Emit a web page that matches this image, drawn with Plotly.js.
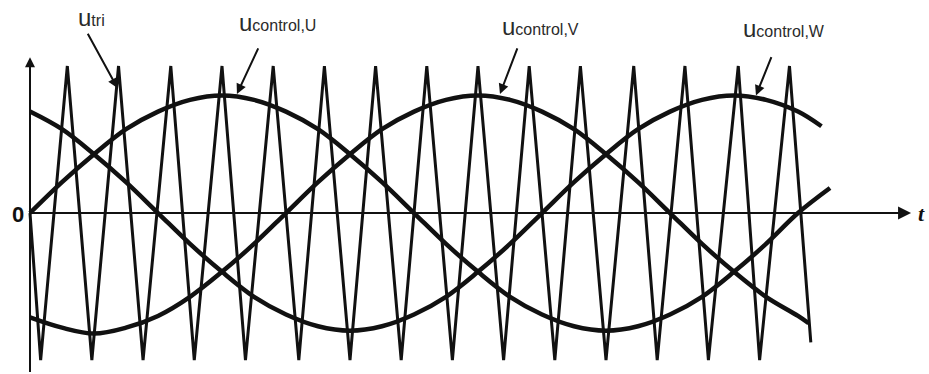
<!DOCTYPE html>
<html>
<head>
<meta charset="utf-8">
<script src="https://cdn.plot.ly/plotly-3.0.1.min.js"></script>
<style>html,body{margin:0;padding:0;background:#fff;}#chart{width:929px;height:374px;}</style>
</head>
<body>
<div id="chart"></div>
<script>
// time axis in electrical degrees of the fundamental
const sineT = [0,15,30,45,60,75,90,105,120,135,150,165,180,195,210,225,240,255,270,285,300,315,330,345,360];
const uU = [0,0.21,0.40,0.57,0.69,0.77,0.80,0.77,0.69,0.57,0.40,0.21,0,-0.21,-0.40,-0.57,-0.69,-0.77,-0.80,-0.77,-0.69,-0.57,-0.40,-0.21,0];
const uV = [-0.71,-0.78,-0.82,-0.78,-0.70,-0.57,-0.40,-0.21,0,0.21,0.40,0.57,0.69,0.77,0.80,0.77,0.69,0.57,0.40,0.21,0,-0.21,-0.40,-0.57,-0.70];
const uW = [0.69,0.57,0.40,0.21,0,-0.21,-0.40,-0.57,-0.69,-0.77,-0.80,-0.77,-0.69,-0.57,-0.40,-0.21,0,0.21,0.40,0.57,0.69,0.77,0.80,0.77,0.69];
const endT_U = 375, endU = 0.17;
const endT_V = 365, endV = -0.75;
const endT_W = 371, endW = 0.59;

// triangle carrier vertices
const triT = [0,5,17.5,29,41.5,53,66,77,90,101,114,126,138,150,162,174,186,198,210,222,234,246,258,270,283,294,307,318,332,342,356,366];
const triV = [0,-1,1,-1,1,-1,1,-1,1,-1,1,-1,1,-1,1,-1,1,-1,1,-1,1,-1,1,-1,1,-1,1,-1,1,-1,1,-0.88];

const labels = ['tri', 'control,U', 'control,V', 'control,W'];

const ink = '#111111';
const txt = '#2b2b2b';

const traces = [
  {x: triT, y: triV, mode: 'lines', line: {color: ink, width: 3}, hoverinfo: 'skip'},
  {x: sineT.concat([endT_U]), y: uU.concat([endU]), mode: 'lines', line: {color: ink, width: 4.5, shape: 'spline', smoothing: 1}, hoverinfo: 'skip'},
  {x: sineT.concat([endT_V]), y: uV.concat([endV]), mode: 'lines', line: {color: ink, width: 4.5, shape: 'spline', smoothing: 1}, hoverinfo: 'skip'},
  {x: sineT.concat([endT_W]), y: uW.concat([endW]), mode: 'lines', line: {color: ink, width: 4.5, shape: 'spline', smoothing: 1}, hoverinfo: 'skip'}
];

function lbl(sub, x, y) {
  return {x: x, y: y, xref: 'x', yref: 'y', showarrow: false, xanchor: 'left', yanchor: 'middle',
    text: 'u<span style="font-size:16px">' + sub + '</span>',
    font: {family: 'Liberation Sans, Arial, sans-serif', size: 24, color: txt}};
}
function arr(x, y, ax, ay, size) {
  return {x: x, y: y, ax: ax, ay: ay, xref: 'x', yref: 'y', axref: 'x', ayref: 'y', text: '',
    showarrow: true, arrowhead: 2, arrowsize: size || 1, arrowwidth: 2, arrowcolor: ink};
}

const annotations = [
  lbl(labels[0], 21.6, 1.33),
  lbl(labels[1], 97.2, 1.295),
  lbl(labels[2], 220.4, 1.27),
  lbl(labels[3], 333.2, 1.255),
  arr(41.0, 0.85, 26.7, 1.23),
  arr(97.0, 0.81, 107.3, 1.13),
  arr(220.3, 0.81, 228.7, 1.13),
  arr(340.3, 0.80, 347.8, 1.07),
  arr(0, 1.06, 0, 0.9, 1),
  arr(413, 0, 398, 0, 1.3),
  {x: -5.6, y: -0.01, xref: 'x', yref: 'y', showarrow: false, text: '<b>0</b>',
   font: {family: 'Liberation Sans, Arial, sans-serif', size: 22, color: ink}},
  {x: 418, y: 0, xref: 'x', yref: 'y', showarrow: false, text: '<b><i>t</i></b>',
   font: {family: 'Liberation Serif, serif', size: 22, color: ink}}
];

const shapes = [
  {type: 'line', xref: 'x', yref: 'y', x0: 0, y0: -1.082, x1: 0, y1: 1.0, line: {color: ink, width: 2}},
  {type: 'line', xref: 'x', yref: 'y', x0: 0, y0: 0, x1: 405, y1: 0, line: {color: ink, width: 2}}
];

const layout = {
  width: 929, height: 374,
  margin: {l: 0, r: 0, t: 0, b: 0},
  paper_bgcolor: '#ffffff', plot_bgcolor: '#ffffff',
  showlegend: false,
  xaxis: {range: [-14.06, 421.4], visible: false, fixedrange: true},
  yaxis: {range: [-1.095, 1.449], visible: false, fixedrange: true},
  annotations: annotations,
  shapes: shapes
};

Plotly.newPlot('chart', traces, layout, {displayModeBar: false, staticPlot: true});
</script>
</body>
</html>
